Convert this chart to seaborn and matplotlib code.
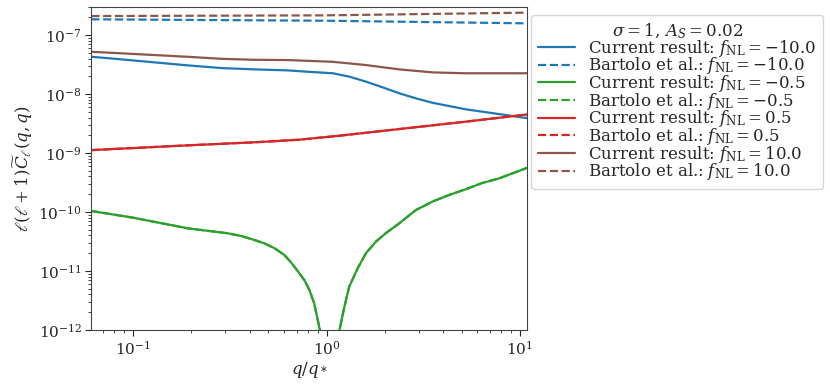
import numpy as np
import pandas as pd
import seaborn as sns
import matplotlib
matplotlib.use("Agg")
import matplotlib.pyplot as plt

# ---------------- DATA ----------------
q_fm10 = [0.0607, 0.0871, 0.1294, 0.192, 0.285, 0.424, 0.629, 0.798, 1.078, 1.314, 1.602,
          1.95, 2.378, 2.90, 3.53, 5.25, 7.79, 10.49, 10.9]
cur_fm10 = [4.29e-8, 3.87e-8, 3.44e-8, 3.06e-8, 2.76e-8, 2.62e-8, 2.52e-8, 2.39e-8, 2.25e-8,
            1.97e-8, 1.62e-8, 1.30e-8, 1.03e-8, 8.46e-9, 7.12e-9, 5.51e-9, 4.58e-9, 3.97e-9, 3.93e-9]
q_bart_fm10 = [0.0607, 1.0, 10.9]
bart_fm10 = [1.85e-7, 1.75e-7, 1.58e-7]

q_fm05 = [0.0607, 0.1, 0.192, 0.309, 0.362, 0.424, 0.477, 0.538, 0.605, 0.655, 0.709, 0.768,
          0.815, 0.864, 0.924, 0.95, 1.04, 1.12, 1.167, 1.238, 1.31, 1.449, 1.6, 1.80, 2.03,
          2.38, 2.9, 3.53, 4.3, 5.25, 6.39, 7.79, 10.9]
cur_fm05 = [1.04e-10, 8.0e-11, 5.28e-11, 4.35e-11, 3.92e-11, 3.35e-11, 2.94e-11, 2.43e-11,
            1.87e-11, 1.4e-11, 1.0e-11, 7.0e-12, 4.8e-12, 2.8e-12, 1e-12, 4e-13, 1e-16,
            4e-13, 1e-12, 2.48e-12, 5.4e-12, 1.11e-11, 2.0e-11, 3.14e-11, 4.4e-11,
            6.43e-11, 1.08e-10, 1.5e-10, 1.94e-10, 2.43e-10, 3.1e-10, 3.7e-10, 5.6e-10]
bart_fm05 = cur_fm05

q_fp05 = [0.0607, 0.192, 0.424, 0.72, 1.14, 2.38, 5.25, 10.9]
cur_fp05 = [1.12e-9, 1.35e-9, 1.52e-9, 1.68e-9, 1.95e-9, 2.55e-9, 3.4e-9, 4.5e-9]
bart_fp05 = cur_fp05

q_fp10 = [0.0607, 0.0871, 0.1294, 0.192, 0.285, 0.424, 0.629, 0.798, 1.078, 1.602, 2.378,
          3.53, 5.25, 10.49, 10.9]
cur_fp10 = [5.21e-8, 4.90e-8, 4.58e-8, 4.28e-8, 3.96e-8, 3.81e-8, 3.77e-8, 3.66e-8, 3.52e-8,
            3.10e-8, 2.62e-8, 2.33e-8, 2.25e-8, 2.25e-8, 2.26e-8]
q_bart_fp10 = [0.0607, 1.0, 10.9]
bart_fp10 = [2.1e-7, 2.16e-7, 2.4e-7]

fnl_labels = ["-10.0", "-0.5", "0.5", "10.0"]
colors = ["#1f77b4", "#2ca02c", "#d62728", "#8c564b"]

# ---------------- PLOT ----------------
sns.set_style("ticks")
plt.rcParams["font.family"] = ["DejaVu Serif"]
plt.rcParams["mathtext.fontset"] = "dejavuserif"

fig = plt.figure(figsize=(8.3, 3.85), dpi=100)
ax = fig.add_axes([0.110, 0.143, 0.525, 0.839])

series = [
    (q_fm10, cur_fm10, q_bart_fm10, bart_fm10),
    (q_fm05, cur_fm05, q_fm05, bart_fm05),
    (q_fp05, cur_fp05, q_fp05, bart_fp05),
    (q_fp10, cur_fp10, q_bart_fp10, bart_fp10),
]

for (qc, yc, qb, yb), fnl, col in zip(series, fnl_labels, colors):
    sns.lineplot(x=qc, y=yc, ax=ax, color=col, lw=1.6, sort=False,
                 label=r"Current result: $f_{\rm NL}=%s$" % fnl)
    sns.lineplot(x=qb, y=yb, ax=ax, color=col, lw=1.6, linestyle="--", sort=False,
                 label=r"Bartolo et al.: $f_{\rm NL}=%s$" % fnl)

ax.set_xscale("log")
ax.set_yscale("log")
ax.set_xlim(0.0607, 10.9)
ax.set_ylim(1e-12, 3e-7)
ax.set_xlabel(r"$q/q_*$", fontsize=12, labelpad=2)
ax.set_ylabel(r"$\ell(\ell+1)\widetilde{C}_\ell(q,q)$", fontsize=12, labelpad=2)
ax.tick_params(which="major", labelsize=11, length=4, width=0.8, pad=3)
ax.tick_params(which="minor", length=2, width=0.6)
for sp in ax.spines.values():
    sp.set_color("#444444")

leg = ax.legend(loc="upper left", bbox_to_anchor=(1.01, 0.975), fontsize=12,
                title=r"$\sigma=1,\,A_S=0.02$", title_fontsize=12,
                labelspacing=-0.2, borderaxespad=0.0, handlelength=2.2,
                frameon=True)

fig.savefig("out.png", dpi=100)
